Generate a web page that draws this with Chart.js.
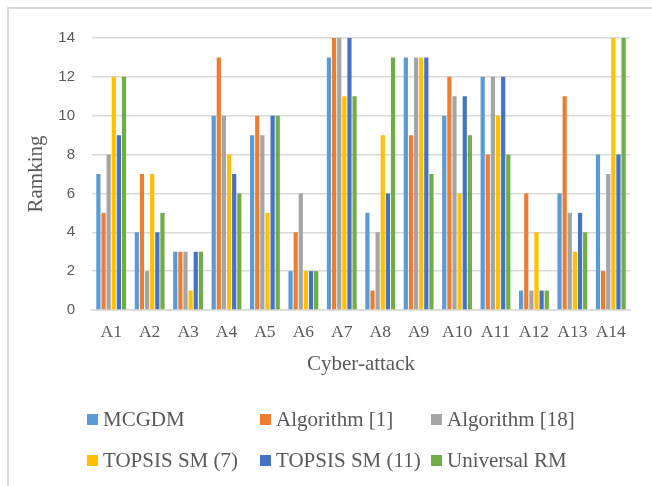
<!DOCTYPE html>
<html>
<head>
<meta charset="utf-8">
<script src="https://cdn.jsdelivr.net/npm/chart.js@4"></script>
<style>
  html, body { margin: 0; padding: 0; background: #fff; }
  #wrap { position: relative; width: 652px; height: 486px; overflow: hidden; }
  #frame { position: absolute; left: 7px; top: 7px; width: 700px; height: 520px; border: 2px solid #d9d9d9; box-sizing: border-box; }
  canvas { position: absolute; left: 0; top: 0; }
  .leg { position: absolute; font-family: "Liberation Serif", "Times New Roman", serif; font-size: 21px; color: #595959; white-space: nowrap; line-height: 24px; }
  .leg span { display: inline-block; width: 11px; height: 11px; margin-right: 5px; vertical-align: 1px; }
</style>
</head>
<body>
<div id="wrap">
  <div id="frame"></div>
  <canvas id="grafico" width="652" height="486"></canvas>
  <div id="legenda"></div>
</div>
<script>
// Dados do gráfico
const ataques = ["A1", "A2", "A3", "A4", "A5", "A6", "A7", "A8", "A9", "A10", "A11", "A12", "A13", "A14"];
const mcgdm = [7, 4, 3, 10, 9, 2, 13, 5, 13, 10, 12, 1, 6, 8];
const algoritmo1 = [5, 7, 3, 13, 10, 4, 14, 1, 9, 12, 8, 6, 11, 2];
const algoritmo18 = [8, 2, 3, 10, 9, 6, 14, 4, 13, 11, 12, 1, 5, 7];
const topsis7 = [12, 7, 1, 8, 5, 2, 11, 9, 13, 6, 10, 4, 3, 14];
const topsis11 = [9, 4, 3, 7, 10, 2, 14, 6, 13, 11, 12, 1, 5, 8];
const universalRM = [12, 5, 3, 6, 10, 2, 11, 13, 7, 9, 8, 1, 4, 14];
const nomes = ["MCGDM", "Algorithm [1]", "Algorithm [18]", "TOPSIS SM (7)", "TOPSIS SM (11)", "Universal RM"];
const cores = ["#5B9BD5", "#ED7D31", "#A5A5A5", "#FFC000", "#4472C4", "#70AD47"];

const series = [mcgdm, algoritmo1, algoritmo18, topsis7, topsis11, universalRM];

// Montar datasets
const datasets = series.map((valores, i) => ({
    label: nomes[i],
    data: valores,
    backgroundColor: cores[i],
    categoryPercentage: 0.8,
    barPercentage: 0.82
}));

const ctx = document.getElementById("grafico").getContext("2d");

new Chart(ctx, {
    type: 'bar',
    data: { labels: ataques, datasets },
    options: {
        responsive: false,
        animation: false,
        layout: { padding: { left: 20, right: 22, top: 38, bottom: 106 } },
        plugins: { legend: { display: false }, tooltip: { enabled: false } },
        scales: {
            x: {
                grid: { display: false, drawTicks: false },
                border: { display: true, color: '#d9d9d9', width: 1.5 },
                ticks: {
                    padding: 12,
                    color: '#595959',
                    font: { family: 'Liberation Serif', size: 17.5 }
                },
                title: {
                    display: true,
                    text: 'Cyber-attack',
                    color: '#595959',
                    padding: { top: 0, bottom: 3 },
                    font: { family: 'Liberation Serif', size: 21 }
                },
                afterFit: s => { s.height = 70; }
            },
            y: {
                min: 0,
                max: 14,
                grid: { color: '#d9d9d9', lineWidth: 1.5, drawTicks: false },
                border: { display: false },
                ticks: {
                    stepSize: 2,
                    padding: 17,
                    color: '#595959',
                    font: { family: 'Liberation Sans', size: 15 }
                },
                title: {
                    display: true,
                    text: 'Ramking',
                    color: '#595959',
                    padding: { top: 4, bottom: 0 },
                    font: { family: 'Liberation Serif', size: 21 }
                },
                afterFit: s => { s.width = 72; }
            }
        }
    }
});

// Legenda em colunas
const posicoes = [[87, 407], [260, 407], [431, 407], [87, 448], [260, 448], [431, 448]];
const legenda = document.getElementById("legenda");
nomes.forEach((nome, i) => {
    const div = document.createElement("div");
    div.className = "leg";
    div.style.left = posicoes[i][0] + "px";
    div.style.top = posicoes[i][1] + "px";
    div.innerHTML = `<span style="background:${cores[i]}"></span>${nome}`;
    legenda.appendChild(div);
});
</script>
</body>
</html>
